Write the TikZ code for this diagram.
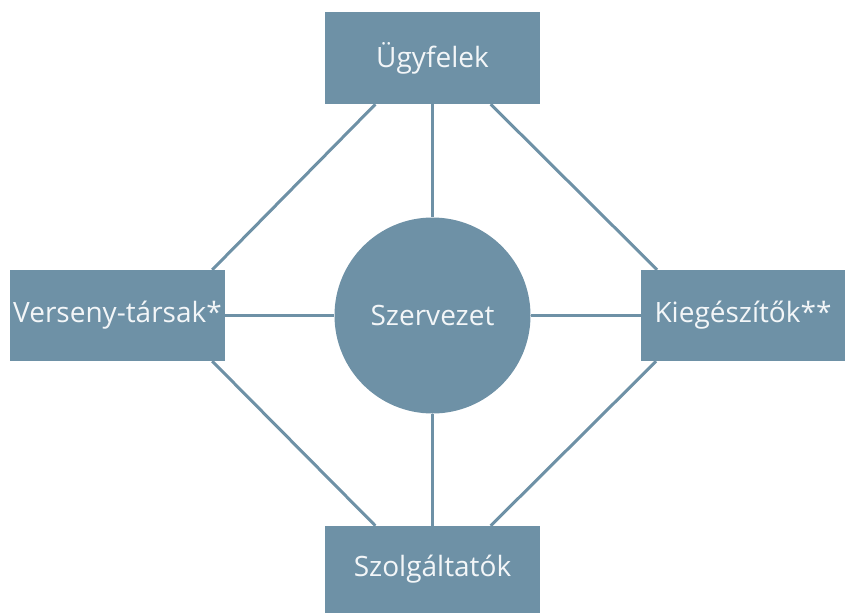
\documentclass[tikz,border=0pt]{standalone}
\usepackage{fontspec}
\setmainfont{Open Sans}
\usepackage{tikz}
\usetikzlibrary{calc}
\definecolor{sblue}{HTML}{6E91A6}
\definecolor{stext}{HTML}{F3F6F8}
\tikzstyle{rectblock} = [rectangle, fill=sblue, text=stext, inner sep=0pt, font=\fontsize{28}{30}\selectfont]
\tikzstyle{hub} = [circle, fill=sblue, text=stext, inner sep=0pt, minimum size=196pt, font=\fontsize{28}{30}\selectfont]
\tikzstyle{link} = [draw=sblue, line width=3pt]

\begin{document}
\begin{tikzpicture}[x=1pt, y=-1pt]
    \useasboundingbox (0,0) rectangle (845,613);
    % center
    \node[hub] at (432.5, 315.5) (org) {Szervezet};

    % surrounding boxes
    \node[rectblock, minimum width=215pt, minimum height=92pt] at (432.5, 58) (ugy) {Ügyfelek};
    \node[rectblock, minimum width=215pt, minimum height=91pt] at (117.5, 315.5) (ver) {Verseny-társak*};
    \node[rectblock, minimum width=204pt, minimum height=91pt] at (743, 315.5) (kie) {Kiegészítők**};
    \node[rectblock, minimum width=215pt, minimum height=87pt] at (432.5, 569.5) (szo) {Szolgáltatók};

    % spokes
    \path[link] (ugy.south) to (org.north);
    \path[link] (szo.north) to (org.south);
    \path[link] (ver.east) to (org.west);
    \path[link] (kie.west) to (org.east);

    % ring
    \path[link] ($(ugy.south west)!0.235!(ugy.south east)$) to ($(ver.north west)!0.94!(ver.north east)$);
    \path[link] ($(ugy.south west)!0.77!(ugy.south east)$) to ($(kie.north west)!0.08!(kie.north east)$);
    \path[link] ($(szo.north west)!0.235!(szo.north east)$) to ($(ver.south west)!0.94!(ver.south east)$);
    \path[link] ($(szo.north west)!0.77!(szo.north east)$) to ($(kie.south west)!0.075!(kie.south east)$);
\end{tikzpicture}
\end{document}
